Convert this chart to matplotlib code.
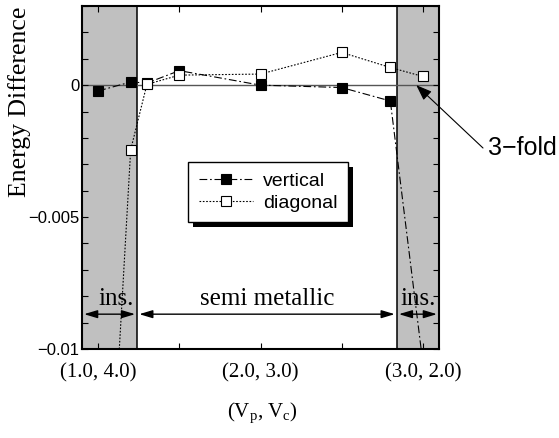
import matplotlib
matplotlib.use("Agg")
import matplotlib.pyplot as plt
from matplotlib.patches import Rectangle
from matplotlib.ticker import FixedLocator, MultipleLocator

plt.rcParams['mathtext.fontset'] = 'custom'
plt.rcParams['mathtext.rm'] = 'Liberation Serif'
plt.rcParams['mathtext.it'] = 'Liberation Serif:italic'

SERIF = 'Liberation Serif'
SANS = 'Liberation Sans'

# (Vp, Vc) path, plotted against Vp
vp = [1.0, 1.2, 1.3, 1.5, 2.0, 2.5, 2.8, 3.0]
vertical = [-0.00022, 0.00012, 0.00008, 0.00055, 0.0, -0.00009, -0.0006, -0.0105]
diagonal = [-0.024, -0.00245, 0.00003, 0.00038, 0.00042, 0.00124, 0.00067, 0.00033]

xtick_pos = [1.0, 2.0, 3.0]
xtick_labels = ['(1.0, 4.0)', '(2.0, 3.0)', '(3.0, 2.0)']
ytick_pos = [0, -0.005, -0.01]
ytick_labels = ['0', '\u22120.005', '\u22120.01']

# phase regions: insulator / semi metallic / insulator
region_edges = [0.9, 1.24, 2.84, 3.1]
region_names = ['ins.', 'semi metallic', 'ins.']

fig = plt.figure(figsize=(5.59, 4.38), dpi=100)
W, H = 559, 438
ax = fig.add_axes([82 / W, 1 - 349 / H, 357 / W, 343 / H])

ax.set_xlim(region_edges[0], region_edges[-1])
ax.set_ylim(-0.01, 0.003)

# grey shading of insulating parts
ax.axvspan(region_edges[0], region_edges[1], color='#c0c0c0', zorder=0, lw=0)
ax.axvspan(region_edges[2], region_edges[3], color='#c0c0c0', zorder=0, lw=0)
for e in region_edges[1:3]:
    ax.axvline(e, color='black', lw=1.1, zorder=1)
ax.axhline(0, color='#555555', lw=1.0, zorder=1)

ax.plot(vp, vertical, color='black', lw=0.8, dashes=(7, 2.5, 1.5, 2.5),
        marker='s', ms=6.8, mfc='black', mec='black', mew=0.8,
        label='vertical', zorder=3)
ax.plot(vp, diagonal, color='black', lw=0.8, dashes=(1.5, 1.5),
        marker='s', ms=6.8, mfc='white', mec='black', mew=0.8,
        label='diagonal', zorder=4)

# ticks
ax.xaxis.set_major_locator(FixedLocator(xtick_pos))
ax.set_xticklabels(xtick_labels, fontfamily=SERIF, fontsize=15)
ax.xaxis.set_minor_locator(FixedLocator([1.5, 2.5]))
ax.yaxis.set_major_locator(FixedLocator(ytick_pos))
ax.set_yticklabels(ytick_labels, fontfamily=SANS, fontsize=12)
ax.yaxis.set_minor_locator(MultipleLocator(0.001))
ax.tick_params(which='both', direction='in', top=True, right=True,
               length=4.5, width=0.8, colors='black', zorder=5)
ax.tick_params(axis='x', which='major', pad=10)
ax.tick_params(axis='y', which='major', pad=2)
for s in ax.spines.values():
    s.set_linewidth(1.5)
    s.set_zorder(6)

# region labels and arrows
y_txt = -0.0081
y_arr = -0.00868
centers = [1.11, (region_edges[1] + region_edges[2]) / 2, (region_edges[2] + region_edges[3]) / 2]
for i, name in enumerate(region_names):
    ax.text(centers[i], y_txt, name, ha='center', va='center',
            fontfamily=SERIF, fontsize=18, zorder=7)
    ax.annotate('', xy=(region_edges[i], y_arr), xytext=(region_edges[i + 1], y_arr),
                arrowprops=dict(arrowstyle='<|-|>,head_length=1.0,head_width=0.3',
                                mutation_scale=8, color='black', lw=1.0,
                                shrinkA=1.5, shrinkB=1.5),
                annotation_clip=False, zorder=7)

# 3-fold pointer
ax.annotate('', xy=(2.96, 0.0), xycoords='data',
            xytext=(483 / W, 1 - 148 / H), textcoords='figure fraction',
            arrowprops=dict(arrowstyle='-|>,head_length=0.8,head_width=0.3',
                            mutation_scale=12, color='black', lw=0.8,
                            shrinkA=0, shrinkB=0),
            annotation_clip=False)
fig.text(488 / W, 1 - 148 / H, '3\u2212fold', ha='left', va='center',
         fontfamily=SANS, fontsize=18)

# axis labels
fig.text(20 / W, 1 - 102 / H, 'Energy Difference', rotation=90,
         ha='center', va='center', fontfamily=SERIF, fontsize=18.5)
fig.text(262 / W, 1 - 413 / H, '(V$_\\mathrm{p}$, V$_\\mathrm{c}$)',
         ha='center', va='center', fontfamily=SERIF, fontsize=15)

# legend with a solid black drop shadow
leg = ax.legend(loc='upper left', bbox_to_anchor=(188 / W, 1 - 162 / H),
                bbox_transform=fig.transFigure, borderaxespad=0,
                prop={'family': SANS, 'size': 14}, handlelength=2.8,
                handletextpad=0.5, borderpad=0.55, labelspacing=0.2,
                numpoints=1, fancybox=False, framealpha=1, edgecolor='black')
leg.get_frame().set_linewidth(1.0)
leg.set_zorder(8)
fig.canvas.draw()
bb = leg.get_window_extent()
x0, y0 = ax.transAxes.inverted().transform((bb.x0 + 5, bb.y0 - 5))
x1, y1 = ax.transAxes.inverted().transform((bb.x1 + 5, bb.y1 - 5))
ax.add_patch(Rectangle((x0, y0), x1 - x0, y1 - y0, transform=ax.transAxes,
                       facecolor='black', edgecolor='none', zorder=7.5, clip_on=False))

fig.savefig('out.png', dpi=100)
